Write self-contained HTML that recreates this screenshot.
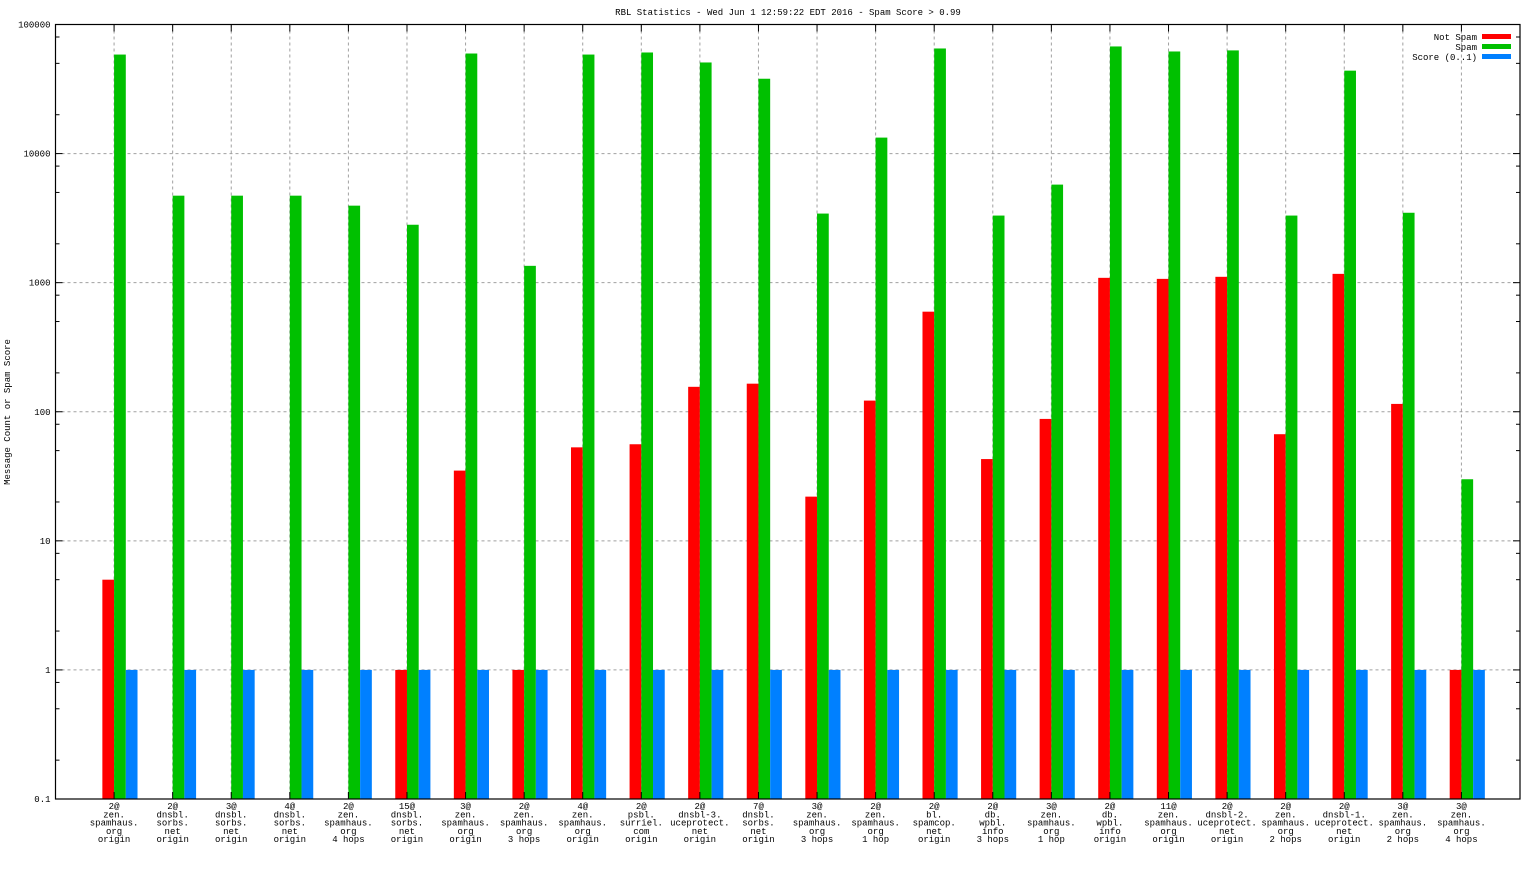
<!DOCTYPE html>
<html><head><meta charset="utf-8"><style>
body{margin:0;background:#fff;}
svg text{font-family:"Liberation Mono",monospace;font-size:9px;fill:#000;}
</style></head><body>
<svg id="chart" width="1536" height="864" xmlns="http://www.w3.org/2000/svg">
<text x="788" y="15" text-anchor="middle">RBL Statistics - Wed Jun  1 12:59:22 EDT 2016 - Spam Score &gt; 0.99</text>
<text transform="translate(10,412) rotate(-90)" text-anchor="middle">Message Count or Spam Score</text>
<g id="grid"></g><g id="bars"></g><g id="axes"></g><g id="labels"></g>
<g>
<text x="1477" y="40" text-anchor="end">Not Spam</text>
<rect x="1482" y="34" width="29" height="5" fill="#ff0000"/>
<text x="1477" y="50" text-anchor="end">Spam</text>
<rect x="1482" y="44" width="29" height="5" fill="#00c000"/>
<text x="1477" y="60" text-anchor="end">Score (0..1)</text>
<rect x="1482" y="54" width="29" height="5" fill="#0080ff"/>
</g>
</svg>
<script>
const categories=[
["2@","zen.","spamhaus.","org","origin"],["2@","dnsbl.","sorbs.","net","origin"],["3@","dnsbl.","sorbs.","net","origin"],["4@","dnsbl.","sorbs.","net","origin"],["2@","zen.","spamhaus.","org","4 hops"],["15@","dnsbl.","sorbs.","net","origin"],["3@","zen.","spamhaus.","org","origin"],["2@","zen.","spamhaus.","org","3 hops"],["4@","zen.","spamhaus.","org","origin"],["2@","psbl.","surriel.","com","origin"],["2@","dnsbl-3.","uceprotect.","net","origin"],["7@","dnsbl.","sorbs.","net","origin"],["3@","zen.","spamhaus.","org","3 hops"],["2@","zen.","spamhaus.","org","1 hop"],["2@","bl.","spamcop.","net","origin"],["2@","db.","wpbl.","info","3 hops"],["3@","zen.","spamhaus.","org","1 hop"],["2@","db.","wpbl.","info","origin"],["11@","zen.","spamhaus.","org","origin"],["2@","dnsbl-2.","uceprotect.","net","origin"],["2@","zen.","spamhaus.","org","2 hops"],["2@","dnsbl-1.","uceprotect.","net","origin"],["3@","zen.","spamhaus.","org","2 hops"],["3@","zen.","spamhaus.","org","4 hops"]];
const notSpam=[5,0,0,0,0,1,35,1,53,56,156,165,22,122,596,43,88,1090,1070,1110,67,1170,115,1];
const spam=[58500,4720,4720,4720,3950,2810,59600,1350,58500,60700,50800,38000,3430,13300,65200,3310,5750,67600,61800,63000,3310,43900,3480,30];
const score=[1,1,1,1,1,1,1,1,1,1,1,1,1,1,1,1,1,1,1,1,1,1,1,1];
const yTicks=[0.1,1,10,100,1000,10000,100000];
const yTickLabels=["0.1","1","10","100","1000","10000","100000"];

const NS="http://www.w3.org/2000/svg";
const L=55.5,R=1520,T=24.5,B=799;
const X=p=>L+(R-L)*p/25;
const Y=v=>B-(B-T)*(Math.log10(v)+1)/6;
function mk(tag,attrs,parent){const e=document.createElementNS(NS,tag);for(const k in attrs)e.setAttribute(k,attrs[k]);document.getElementById(parent).appendChild(e);return e;}
// grid
yTicks.forEach((v,i)=>{
 if(i>0&&i<yTicks.length-1){const g=mk('line',{x1:L,x2:R,y1:Y(v),y2:Y(v),stroke:'#a0a0a0','stroke-dasharray':'3,3'},'grid');
 
 }
 const t=mk('text',{x:L-5,y:Y(v)+3,'text-anchor':'end'},'labels');t.textContent=yTickLabels[i];
 
 
 mk('line',{x1:L,x2:L+7,y1:Y(v),y2:Y(v),stroke:'#000'},'axes');
 mk('line',{x1:R,x2:R-7,y1:Y(v),y2:Y(v),stroke:'#000'},'axes');
 if(i<yTicks.length-1)[2,5,8].forEach(m=>{const y=Y(v*m);mk('line',{x1:L,x2:L+4,y1:y,y2:y,stroke:'#000'},'axes');mk('line',{x1:R,x2:R-4,y1:y,y2:y,stroke:'#000'},'axes');});
});
const w=(R-L)/25*0.2;
categories.forEach((c,i)=>{
 const x=X(i+1);
 const g=mk('line',{x1:x,x2:x,y1:T,y2:B,stroke:'#a0a0a0','stroke-dasharray':'3,3'},'grid');
 
 
 mk('line',{x1:x,x2:x,y1:B,y2:B-7,stroke:'#000'},'axes');
 mk('line',{x1:x,x2:x,y1:T,y2:T+7,stroke:'#000'},'axes');
 [[notSpam,'#ff0000',-1,'bar-not-spam'],[spam,'#00c000',0,'bar-spam'],[score,'#0080ff',1,'bar-score']].forEach(([arr,col,off,nm])=>{
  const v=arr[i]; if(!(v>0.1))return;
  const y=Y(v);
  const r=mk('rect',{x:x+off*w,y:y,width:w,height:B-y,fill:col},'bars');
  
  
 });
 const t=mk('text',{x:x,y:809,'text-anchor':'middle'},'labels');
 
 
 c.forEach((s,j)=>{const ts=document.createElementNS(NS,'tspan');ts.setAttribute('x',x);ts.setAttribute('y',809+j*8.3);ts.textContent=s;t.appendChild(ts);});
});
const f=mk('rect',{x:L,y:T,width:R-L,height:B-T,fill:'none',stroke:'#000','stroke-width':1.2},'axes');


</script>
</body></html>
